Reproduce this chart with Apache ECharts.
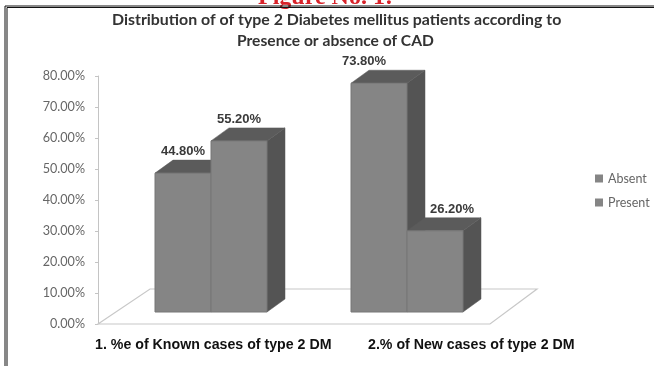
<!DOCTYPE html>
<html><head><meta charset="utf-8">
<style>html,body{margin:0;padding:0;background:#fff;overflow:hidden}#c{width:654px;height:366px;filter:blur(0.6px)}</style>
<script src="https://cdn.jsdelivr.net/npm/echarts@6/dist/echarts.min.js"></script>
</head><body><div id="c"></div>
<script>
const categories = ['1. %e of Known cases of type 2 DM', '2.% of New cases of type 2 DM'];
const seriesNames = ['Absent', 'Present'];
const absent = [44.8, 73.8];
const present = [55.2, 26.2];
const yTicks = [0, 10, 20, 30, 40, 50, 60, 70, 80];

const DX = 18, DY = 13, LIFT = 12, SHIFT = 15, HALF = 56;
const FRONT = '#858585', TOP = '#5b5b5b', SIDE = '#545454', EDGE = '#767676';
const labelShift = { Absent: [0, -15], Present: [0, 17] };

function poly(points, fill) {
  return { type: 'polygon', shape: { points }, style: { fill, stroke: fill, lineWidth: 0.5 } };
}
function bar3d(side, name) {
  return function (params, api) {
    const i = api.value(0), v = api.value(1);
    const base = api.coord([i, 0]), tip = api.coord([i, v]);
    const c = base[0] + SHIFT;
    const x0 = side === 0 ? c - HALF : c, x1 = side === 0 ? c : c + HALF;
    const y0 = base[1] - LIFT, y1 = tip[1] - LIFT;
    return {
      type: 'group',
      children: [
        poly([[x1, y1], [x1 + DX, y1 - DY], [x1 + DX, y0 - DY], [x1, y0]], SIDE),
        poly([[x0, y1], [x0 + DX, y1 - DY], [x1 + DX, y1 - DY], [x1, y1]], TOP),
        { type: 'rect', shape: { x: x0, y: y1, width: x1 - x0, height: y0 - y1 },
          style: { fill: FRONT, stroke: EDGE, lineWidth: 1 } },
        { type: 'text', x: (x0 + x1) / 2 + labelShift[name][i], y: y1 - DY - 2,
          style: { text: v.toFixed(2) + '%', fill: '#3a3a3a', font: 'bold 13px "Liberation Sans"',
                   textAlign: 'center', textVerticalAlign: 'bottom' } }
      ]
    };
  };
}
function floor(params) {
  const s = params.coordSys, b = s.y + s.height, l = s.x, r = s.x + s.width;
  return { type: 'polygon', shape: { points: [[l, b], [l + 52, b - 35], [r + 47, b - 35], [r, b]] },
           style: { fill: '#fff', stroke: '#c8c8c8', lineWidth: 1.2 } };
}

const chart = echarts.init(document.getElementById('c'), null, { renderer: 'canvas' });
chart.setOption({
  animation: false,
  backgroundColor: '#fff',
  color: [FRONT, FRONT],
  grid: { left: 98, top: 76, width: 392, height: 248 },
  legend: {
    data: seriesNames, orient: 'vertical', left: 590, top: 167, itemWidth: 8, itemHeight: 8,
    itemGap: 11, icon: 'rect', textStyle: { fontFamily: 'Lato', fontSize: 12.5, color: '#666' }
  },
  xAxis: { type: 'category', data: categories, axisLabel: { show: false }, axisTick: { show: false }, axisLine: { show: false } },
  yAxis: {
    type: 'value', min: 0, max: 80, interval: 10,
    splitLine: { show: false },
    axisLine: { show: true, lineStyle: { color: '#c4c4c4', width: 1 } },
    axisTick: { show: true, length: 3, lineStyle: { color: '#c4c4c4' } },
    axisLabel: { formatter: v => yTicks[v / 10].toFixed(2) + '%', fontFamily: 'Lato', fontSize: 12.6, color: '#666', margin: 13, padding: [2, 0, 0, 0] }
  },
  series: [
    { type: 'custom', name: 'floor', silent: true, clip: false, renderItem: floor, data: [[0, 0]], z: 1 },
    { type: 'custom', name: seriesNames[0], clip: false, renderItem: bar3d(0, 'Absent'), encode: { x: 0, y: 1 },
      data: absent.map((v, i) => [i, v]), z: 2 },
    { type: 'custom', name: seriesNames[1], clip: false, renderItem: bar3d(1, 'Present'), encode: { x: 0, y: 1 },
      data: present.map((v, i) => [i, v]), z: 3 }
  ],
  graphic: [
    { type: 'text', left: 258, top: -14, style: { text: 'Figure No. 1:', fill: '#d8232a', font: 'bold 24px "Liberation Serif"' } },
    { type: 'rect', shape: { x: 7, y: 7.5, width: 660, height: 370 }, style: { fill: 'none', stroke: '#111', lineWidth: 1 } },
    { type: 'rect', shape: { x: 5, y: 6, width: 662, height: 372 }, style: { fill: 'none', stroke: '#111', lineWidth: 1 } },
    { type: 'text', left: 112, top: 12, style: { text: 'Distribution of of type 2 Diabetes mellitus patients according to', fill: '#333', font: 'bold 15.9px Lato' } },
    { type: 'text', left: 237, top: 33, style: { text: 'Presence or absence of CAD', fill: '#333', font: 'bold 15.6px Lato' } },
    { type: 'text', left: 95, top: 338, style: { text: categories[0], fill: '#111', font: 'bold 14.2px "Liberation Sans"' } },
    { type: 'text', left: 368, top: 338, style: { text: categories[1], fill: '#111', font: 'bold 14.2px "Liberation Sans"' } }
  ]
});
</script></body></html>
